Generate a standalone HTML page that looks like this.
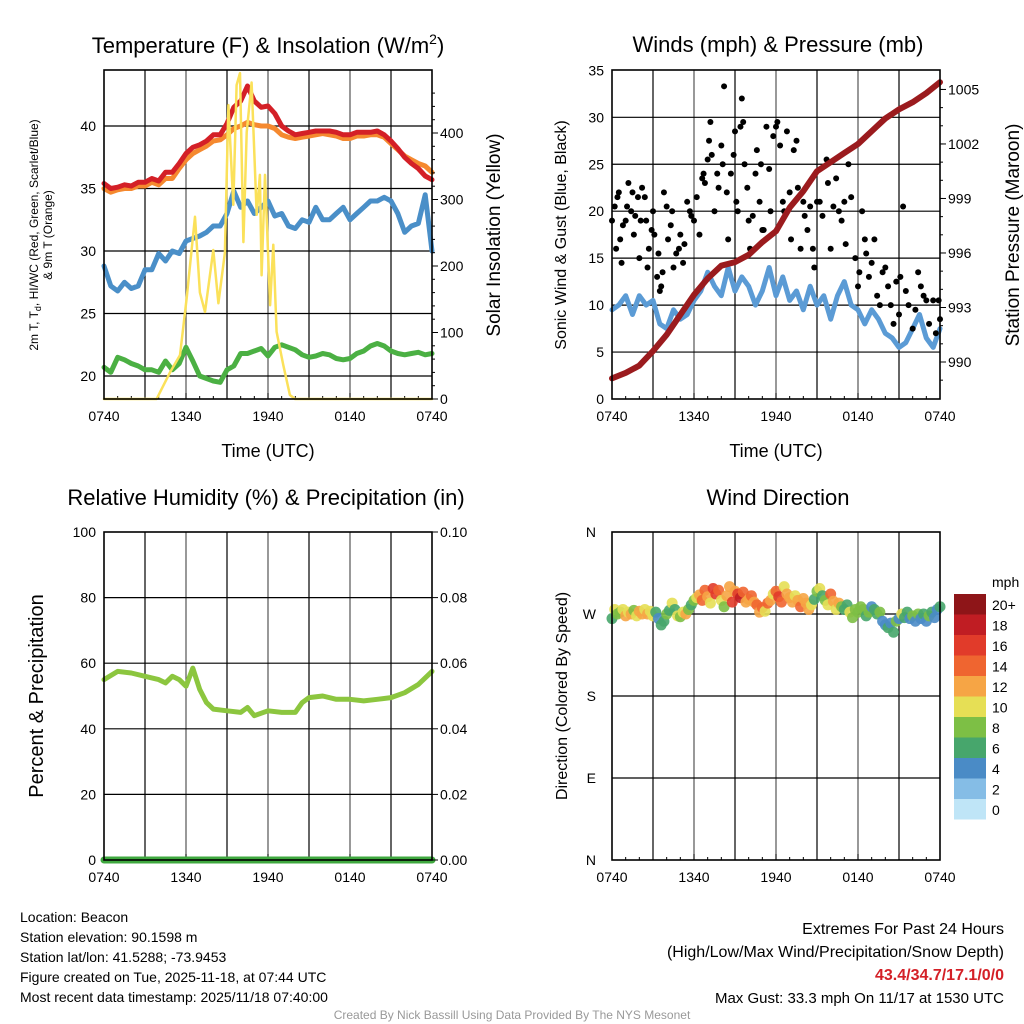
<!DOCTYPE html>
<html><head><meta charset="utf-8"><style>
body{margin:0;background:#fff;width:1024px;height:1024px;overflow:hidden}
svg{display:block;font-family:"Liberation Sans",sans-serif}
</style></head><body>
<svg id="chart" width="1024" height="1024" viewBox="0 0 1024 1024" xmlns="http://www.w3.org/2000/svg"></svg>
<script>
const xTickLabels=["0740","1340","1940","0140","0740"];
const tempRed=[35.4,35.0,35.1,35.3,35.2,35.5,35.5,35.8,35.6,36.3,36.3,37.0,37.8,38.3,38.5,38.8,39.3,39.3,40.2,41.5,42.0,43.2,42.0,41.5,41.6,41.0,40.0,39.6,39.3,39.4,39.5,39.6,39.6,39.6,39.5,39.3,39.3,39.5,39.5,39.5,39.6,39.3,38.8,38.2,37.5,37.0,36.6,36.0,35.7];
const tempOrange=[35.0,34.7,34.9,35.0,35.0,35.2,35.2,35.5,35.3,35.8,35.8,36.6,37.3,37.8,38.1,38.4,38.8,38.9,39.3,39.8,40.0,40.3,40.1,40.0,40.0,39.8,39.3,39.1,39.0,39.1,39.2,39.3,39.4,39.3,39.2,39.0,39.0,39.2,39.2,39.3,39.3,39.1,38.6,38.1,37.6,37.3,37.0,36.8,36.3];
const tempBlue=[28.8,27.2,26.8,27.5,27.0,27.2,28.5,28.5,29.8,29.2,30.0,29.8,30.8,31.0,31.2,31.5,32.0,32.0,33.0,34.8,33.5,34.0,33.0,33.5,34.0,32.8,33.0,32.0,31.8,32.5,32.3,33.5,32.5,32.5,33.0,33.5,32.5,33.0,33.5,34.0,34.0,34.3,34.0,33.0,31.5,32.0,32.2,34.5,30.0];
const tempGreen=[20.7,20.3,21.5,21.3,21.0,20.8,20.5,20.5,20.3,21.2,20.5,21.0,22.3,21.2,20.0,19.8,19.6,19.5,20.5,20.8,21.8,21.8,22.0,22.2,21.6,22.3,22.5,22.3,22.1,21.7,21.5,21.6,21.8,21.7,21.4,21.3,21.4,21.8,22.0,22.4,22.6,22.4,22.0,21.8,21.7,21.8,21.9,21.7,21.8];
const solarT=[0,3.85,4.83,5.56,6.05,6.66,7.02,7.39,8.0,8.37,8.85,9.1,9.46,9.7,9.95,10.2,10.44,10.8,11.17,11.41,11.53,11.78,12.15,12.39,12.63,13.12,13.6,13.98,24];
const solarV=[0,0,40,66,152,274,160,131,224,144,220,442,292,472,490,236,401,476,277,337,186,337,141,232,101,51,6,0,0];
const windSpeed=[9.5,10,11,9,11,10,10.5,8,7.5,9.5,8.5,9,10.5,11.5,13.5,12,11,14,11.5,13,12,10,11.5,14,11,13,10.5,11.5,9.5,12,10,11,8.5,11,12.5,10,9.5,8,9.5,8.5,7,6.5,5.5,6,7.5,9,6.5,5.5,7.5];
const gustT=[0,0.2,0.3,0.4,0.5,0.6,0.7,0.8,1,1.1,1.2,1.4,1.5,1.6,1.7,1.9,2.0,2.1,2.2,2.4,2.5,2.6,2.7,2.9,3.0,3.1,3.3,3.4,3.5,3.6,3.7,3.8,4,4.1,4.3,4.4,4.5,4.7,4.9,5,5.2,5.3,5.5,5.7,5.8,6,6.2,6.4,6.6,6.7,6.8,7,7.1,7.2,7.3,7.5,7.7,7.8,8,8.1,8.2,8.4,8.5,8.7,8.9,9,9.1,9.2,9.4,9.5,9.6,9.7,9.9,10,10.1,10.3,10.5,10.6,10.8,10.9,11.0,11.1,11.3,11.5,11.6,11.8,12,12.1,12.3,12.5,12.6,12.8,13,13.1,13.3,13.5,13.6,13.8,14,14.1,14.3,14.5,14.7,14.8,15,15.2,15.4,15.7,15.8,16,16.2,16.4,16.6,16.8,17,17.1,17.3,17.5,17.8,18.0,18.1,18.3,18.5,18.6,18.8,19,19.2,19.4,19.6,19.8,20,20.2,20.4,20.6,20.8,21,21.1,21.3,21.5,21.7,22,22.2,22.4,22.6,22.8,23,23.2,23.5,23.7,23.9,24];
const gustV=[19,20.5,16,21.5,22,17,14.5,18.5,19,20.5,23,20,22,17.5,19.5,21.5,15,19,22.5,21.5,19,14,16,18,20,17.5,13,15.5,11.5,12,13.5,22,20.5,17,18.5,20,14,15.5,16,17.5,14.5,16.5,21,20,19.5,19,21.5,17.5,23.5,24,23,25.5,27.5,29.5,26,20,24,22.5,27,25,33.3,22,17,24,26,28.5,21,20,29,32,29.5,25,22.5,19,16,19.5,24,26.5,21,25,18,18,29,24.5,20,28,29,29.5,27,21,20,28.5,22,17,26.5,27.5,22.5,16,21,19.5,18,20.5,16,14,21,21,19.5,25.5,23,16,20.5,23.5,20,19,21,16.5,25,21.5,15,12,13.5,20,17,15.5,13,14.5,17,11,10,13.5,14,12,10,8,12.5,9,13,20.5,11.5,10,7.5,9.5,13.5,12,11,10.5,8,10.5,7,10.5,8.5];
const pressure=[989.1,989.4,989.8,990.6,991.5,992.6,993.7,994.6,995.3,995.5,995.9,996.6,997.2,998.5,999.4,1000.5,1001.0,1001.5,1002.0,1002.7,1003.4,1003.9,1004.3,1004.8,1005.4];
const rhT=[0,1,2,3,4,4.5,5,5.5,6,6.5,7,7.5,8,9,10,10.5,11,12,13,14,14.5,15,16,17,18,19,20,21,22,23,24];
const rhV=[55,57.5,57,56,55,54,56,55,53,58.5,52,48,46,45.5,45,46.5,44,45.5,45,45,48,49.5,50,49,49,48.5,49,49.5,51,53.5,57.5];
const precipV=[0,0,0,0,0,0,0,0,0,0,0,0,0,0,0,0,0,0,0,0,0,0,0,0,0];
const dirT=[0,0.2,0.4,0.6,0.8,1.0,1.2,1.4,1.6,1.8,2.0,2.2,2.4,2.6,2.8,3.0,3.2,3.4,3.6,3.8,4.0,4.2,4.4,4.6,4.8,5.0,5.2,5.4,5.6,5.8,6.0,6.2,6.4,6.6,6.8,7.0,7.2,7.4,7.6,7.8,8.0,8.2,8.4,8.6,8.8,9.0,9.2,9.4,9.6,9.8,10.0,10.2,10.4,10.6,10.8,11.0,11.2,11.4,11.6,11.8,12.0,12.2,12.4,12.6,12.8,13.0,13.2,13.4,13.6,13.8,14.0,14.2,14.4,14.6,14.8,15.0,15.2,15.4,15.6,15.8,16.0,16.2,16.4,16.6,16.8,17.0,17.2,17.4,17.6,17.8,18.0,18.2,18.4,18.6,18.8,19.0,19.2,19.4,19.6,19.8,20.0,20.2,20.4,20.6,20.8,21.0,21.2,21.4,21.6,21.8,22.0,22.2,22.4,22.6,22.8,23.0,23.2,23.4,23.6,23.8,24.0];
const dirV=[265,275,270,272,275,268,272,270,274,268,273,270,275,270,273,268,272,265,258,262,270,274,282,275,268,267,272,270,275,280,285,288,291,285,296,289,282,298,292,296,285,278,290,300,283,295,292,288,294,283,286,290,283,280,272,277,273,282,285,292,295,289,283,300,292,288,283,290,285,278,287,282,275,280,286,295,298,290,285,280,292,284,275,282,278,275,280,272,266,275,272,278,275,268,272,278,275,270,272,262,258,255,260,250,262,265,270,266,272,265,268,262,270,265,270,262,268,272,266,275,278];
const dirS=[7,10,9,8,11,12,10,12,9,11,12,12,11,12,10,11,6,5,7,6,9,7,10,7,10,8,11,12,9,6,8,11,13,14,15,13,11,16,17,14,10,9,12,12,16,13,17,18,14,13,12,15,12,14,12,14,10,15,12,10,14,16,15,10,12,13,12,10,12,14,12,12,12,10,6,8,10,7,9,10,15,12,10,12,9,6,7,10,8,8,8,9,8,7,8,5,7,7,8,4,5,6,5,6,8,5,10,6,7,4,8,4,9,5,7,4,8,7,5,5,6];
const cbLabels=["20+","18","16","14","12","10","8","6","4","2","0"];
const cbColors=["#8e1518","#c01d23","#e13b2a","#ef6530","#f6a545","#e6df55","#7dbf45","#47a66c","#4a8bc6","#85bde6","#bfe5f7"];

const svg=document.getElementById('chart');
const NS="http://www.w3.org/2000/svg";
function mk(tag,attrs,parent){const e=document.createElementNS(NS,tag);for(const k in attrs)e.setAttribute(k,attrs[k]);(parent||svg).appendChild(e);return e;}
function txt(s,x,y,size,anchor,parent,rot){const t=mk('text',{x:x,y:y,'font-size':size,'text-anchor':anchor||'middle',fill:'#000'},parent);if(rot)t.setAttribute('transform','rotate('+rot+' '+x+' '+y+')');t.textContent=s;return t;}

function panel(name,x0,y0,x1,y1){
  const g=mk('g',{});
  
  
  const xs=t=>x0+t*(x1-x0)/24;
  return {g,xs,x0,y0,x1,y1};
}
function frame(p,hLinesY){
  const {g,x0,y0,x1,y1,xs}=p;
  for(let i=1;i<8;i++){const l=mk('line',{x1:xs(i*3),x2:xs(i*3),y1:y0,y2:y1,stroke:i%2?'#000':'#555','stroke-width':1.2},g);}
  hLinesY.forEach(y=>{const l=mk('line',{x1:x0,x2:x1,y1:y,y2:y,stroke:'#000','stroke-width':1.2},g);});
  xTickLabels.forEach((s,i)=>{const t=txt(s,xs(i*6),y1+22,14,'middle',g);
    mk('line',{x1:xs(i*6),x2:xs(i*6),y1:y1,y2:y1-6,stroke:'#000'},g);});
  for(let i=1;i<24;i++)mk('line',{x1:xs(i),x2:xs(i),y1:y1,y2:y1-3,stroke:'#000'},g);
}
function border(p){const r=mk('rect',{x:p.x0,y:p.y0,width:p.x1-p.x0,height:p.y1-p.y0,fill:'none',stroke:'#000','stroke-width':1.6},p.g);}
function line(p,ts,vs,ys,color,w,name){
  const d=vs.map((v,i)=>(i?'L':'M')+p.xs(ts[i]).toFixed(1)+','+ys(v).toFixed(1)).join('');
  const e=mk('path',{d:d,fill:'none',stroke:color,'stroke-width':w,'stroke-linejoin':'round','stroke-linecap':'round'},p.g);
  
  
  return e;
}
const halfHours=tempRed.map((_,i)=>i*0.5);
const hours=pressure.map((_,i)=>i);

// Panel 1
const p1=panel('temperature-panel',104,70,432,399);
const yT=v=>376-(v-20)*12.5;
const ySol=v=>399-v*0.665;
frame(p1,[20,25,30,35,40].map(yT));
line(p1,halfHours,tempBlue,yT,'#4a8fc8',5,'dewpoint-line');
line(p1,halfHours,tempGreen,yT,'#4bb043',5,'green-temp-line');
line(p1,halfHours,tempOrange,yT,'#f5892f',5,'9m-temp-line');
line(p1,halfHours,tempRed,yT,'#d42027',5,'2m-temp-line');
line(p1,solarT,solarV,ySol,'#fbe15a',2.5,'solar-line');
border(p1);
[20,25,30,35,40].forEach(v=>{const t=txt(String(v),96,yT(v)+5,14,'end',p1.g);});
[0,100,200,300,400].forEach(v=>{const t=txt(String(v),440,ySol(v)+5,14,'start',p1.g);mk('line',{x1:432,x2:438,y1:ySol(v),y2:ySol(v),stroke:'#000'},p1.g);});
for(let v=20;v<480;v+=20)mk('line',{x1:432,x2:435,y1:ySol(v),y2:ySol(v),stroke:'#000'},p1.g);

// Panel 2
const p2=panel('wind-panel',612,70,940,399);
const yW=v=>399-v*9.39;
const yP=v=>362-(v-990)*18.17;
frame(p2,[5,10,15,20,25,30].map(yW));
line(p2,halfHours,windSpeed,yW,'#5b9bd5',5,'sonic-wind-line');
gustV.forEach((v,i)=>{const c=mk('circle',{cx:p2.xs(gustT[i]),cy:yW(v),r:3,fill:'#000'},p2.g);});
line(p2,hours,pressure,yP,'#9b1b1e',6,'pressure-line');
border(p2);
[0,5,10,15,20,25,30,35].forEach(v=>{const t=txt(String(v),604,yW(v)+5,14,'end',p2.g);});
[990,993,996,999,1002,1005].forEach(v=>{const t=txt(String(v),948,yP(v)+5,14,'start',p2.g);mk('line',{x1:940,x2:946,y1:yP(v),y2:yP(v),stroke:'#000'},p2.g);});
for(let v=989;v<1006;v++)mk('line',{x1:940,x2:943,y1:yP(v),y2:yP(v),stroke:'#000'},p2.g);

// Panel 3
const p3=panel('humidity-panel',104,532,432,860);
const yRH=v=>860-v*3.28;
const yPr=v=>860-v*3280;
frame(p3,[20,40,60,80].map(yRH));
line(p3,rhT,rhV,yRH,'#8cc63f',5,'humidity-line');
line(p3,hours,precipV,yPr,'#3fa83f',7,'precipitation-line');
border(p3);
[0,20,40,60,80,100].forEach(v=>{const t=txt(String(v),96,yRH(v)+5,14,'end',p3.g);});
["0.00","0.02","0.04","0.06","0.08","0.10"].forEach((s,i)=>{const y=yRH(i*20);const t=txt(s,440,y+5,14,'start',p3.g);mk('line',{x1:432,x2:438,y1:y,y2:y,stroke:'#000'},p3.g);});

// Panel 4
const p4=panel('wind-direction-panel',612,532,940,860);
const yD=v=>860-v*328/360;
frame(p4,[90,180,270].map(yD));
const colorFor=s=>cbColors[10-Math.min(10,Math.floor(s/2))];
dirV.forEach((v,i)=>{const c=mk('circle',{cx:p4.xs(dirT[i]),cy:yD(v),r:5.5,fill:colorFor(dirS[i]),'fill-opacity':0.9},p4.g);});
border(p4);
["N","E","S","W","N"].forEach((s,i)=>{const t=txt(s,596,yD(i*90)+5,14,'end',p4.g);});
const cb=mk('g',{});
cbColors.forEach((c,i)=>{const r=mk('rect',{x:954,y:594+i*20.5,width:32,height:20.5,fill:c},cb);
  const t=txt(cbLabels[i],992,594+i*20.5+16,14,'start',cb);});
const mph=txt('mph',992,587,14,'start',cb);

// titles
function T(s,x,y,size,anchor,name,rot,color,weight){const t=txt(s,x,y,size,anchor,svg,rot);if(color)t.setAttribute('fill',color);if(weight)t.setAttribute('font-weight',weight);return t;}
const t1=T('',268,53,22,'middle','temperature-title');
t1.innerHTML='Temperature (F) &amp; Insolation (W/m<tspan font-size="14" dy="-9">2</tspan><tspan dy="9">)</tspan>';
T('Winds (mph) & Pressure (mb)',778,52,22,'middle','wind-title');
T('Relative Humidity (%) & Precipitation (in)',266,505,22,'middle','humidity-title');
T('Wind Direction',778,505,22,'middle','direction-title');
T('Time (UTC)',268,457,18,'middle','x-axis-title-temp');
T('Time (UTC)',776,457,18,'middle','x-axis-title-wind');
const yl=T('',38,235,12,'middle','temp-y-axis-title',-90);
yl.innerHTML='2m T, T<tspan font-size="9" dy="3">d</tspan><tspan dy="-3">, HI/WC (Red, Green, Scarlet/Blue)</tspan>';
T('& 9m T (Orange)',52,235,12,'middle','temp-y-axis-title-2',-90);
T('Solar Insolation (Yellow)',500,235,19,'middle','solar-y-axis-title',-90);
T('Sonic Wind & Gust (Blue, Black)',566,235,16,'middle','wind-y-axis-title',-90);
T('Station Pressure (Maroon)',1019,235,19,'middle','pressure-y-axis-title',-90);
T('Percent & Precipitation',43,696,20,'middle','humidity-y-axis-title',-90);
T('Direction (Colored By Speed)',567,696,16,'middle','direction-y-axis-title',-90);
['Location: Beacon','Station elevation: 90.1598 m','Station lat/lon: 41.5288; -73.9453','Figure created on Tue, 2025-11-18, at 07:44 UTC','Most recent data timestamp: 2025/11/18 07:40:00'].forEach((s,i)=>T(s,20,922+i*20,14,'start','station-info-line'));
T('Extremes For Past 24 Hours',1004,934,16,'end','extremes-title');
T('(High/Low/Max Wind/Precipitation/Snow Depth)',1004,957,16,'end','extremes-subtitle');
T('43.4/34.7/17.1/0/0',1004,980,16,'end','extremes-values',null,'#d42027','bold');
T('Max Gust: 33.3 mph On 11/17 at 1530 UTC',1004,1003,15,'end','max-gust-text');
T('Created By Nick Bassill Using Data Provided By The NYS Mesonet',512,1019,12,'middle','credit-text',null,'#999');
</script>
</body></html>
